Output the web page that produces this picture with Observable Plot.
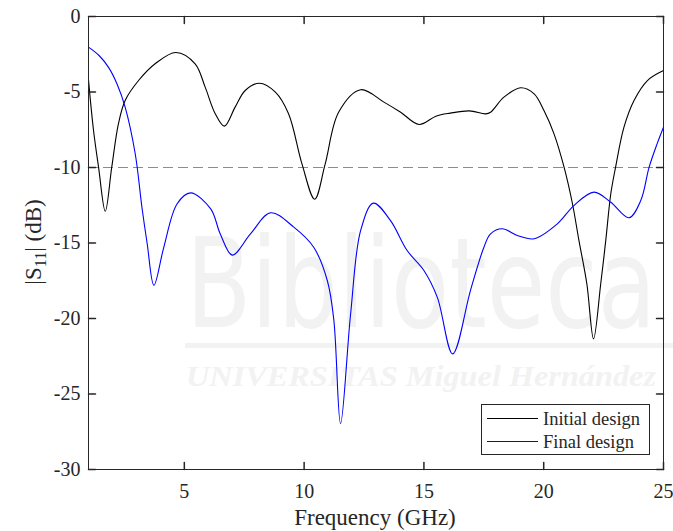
<!DOCTYPE html>
<html><head><meta charset="utf-8">
<script src="https://cdn.jsdelivr.net/npm/d3@7"></script>
<script src="https://cdn.jsdelivr.net/npm/@observablehq/plot@0.6"></script>
<style>body{margin:0;background:#fff} svg{display:block}</style>
</head><body><div id="chart"></div>
<script>
// Initial design |S11| (dB)
const freqInitial = [1.0,1.21,1.42,1.7,1.97,2.25,2.53,3.09,3.78,4.65,5.45,5.87,6.29,6.67,7.12,7.54,8.13,8.8,9.35,9.91,10.44,10.88,11.44,12.36,13.33,14.03,14.8,15.5,16.1,16.9,17.58,17.78,18.34,19.04,19.6,20.01,20.43,20.85,21.2,21.47,21.8,22.08,22.38,22.59,22.8,23.0,23.35,23.77,24.33,25.0];
const s11Initial  = [-4.2,-7.55,-9.98,-12.9,-9.98,-7.1,-5.56,-4.24,-3.13,-2.38,-3.13,-4.68,-6.44,-7.26,-6.0,-4.9,-4.42,-5.01,-6.44,-9.76,-12.1,-9.76,-6.34,-4.85,-5.67,-6.34,-7.15,-6.6,-6.4,-6.25,-6.45,-6.34,-5.34,-4.72,-5.12,-6.23,-7.77,-9.98,-12.4,-14.83,-17.7,-21.35,-17.7,-14.83,-11.74,-9.98,-7.33,-5.56,-4.24,-3.58];
// Final design |S11| (dB)
const freqFinal = [1.0,1.45,1.85,2.2,2.53,2.95,3.23,3.45,3.73,4.14,4.7,5.26,6.1,6.5,7.0,7.76,8.6,9.57,10.4,10.97,11.24,11.52,11.94,12.36,12.89,13.6,14.3,15.0,15.56,16.2,16.95,17.5,17.78,18.27,18.9,19.6,20.57,21.26,22.1,22.8,23.56,24.05,24.4,24.74,25.0];
const s11Final  = [-2.03,-2.6,-3.4,-4.5,-6.0,-9.09,-12.63,-15.05,-17.8,-15.3,-12.4,-11.68,-12.74,-14.4,-15.8,-14.4,-13.0,-13.95,-15.28,-17.5,-20.1,-26.97,-19.7,-14.17,-12.36,-13.5,-15.5,-16.82,-18.6,-22.34,-18.1,-15.3,-14.39,-14.06,-14.5,-14.72,-13.73,-12.52,-11.63,-12.3,-13.33,-12.19,-9.98,-8.4,-7.33];

const seriesNames = ["Initial design", "Final design"];
const seriesColors = ["#000000", "#0000ff"];
const xTicks = [5, 10, 15, 20, 25];
const yTicks = [-30, -25, -20, -15, -10, -5, 0];
const threshold = -10;
const xLabel = "Frequency (GHz)";

const initial = freqInitial.map((f, i) => ({f, s: s11Initial[i]}));
const final = freqFinal.map((f, i) => ({f, s: s11Final[i]}));

const tickShape = {draw(ctx, l) { ctx.moveTo(0, 0); ctx.lineTo(0, -l); }};
const axisColor = "#262626";
const font = "Liberation Serif, Times New Roman, serif";

const chart = Plot.plot({
  width: 673, height: 531,
  marginLeft: 88, marginRight: 10, marginTop: 16, marginBottom: 62,
  style: {fontFamily: font, fontSize: "20px", color: axisColor, background: "#fff"},
  x: {domain: [1, 25]},
  y: {domain: [-30, 0]},
  marks: [
    Plot.ruleY([threshold], {stroke: "#8c8c8c", strokeDasharray: "10,5", strokeWidth: 1.2}),
    Plot.line(initial, {x: "f", y: "s", stroke: seriesColors[0], strokeWidth: 1.1, curve: "catmull-rom"}),
    Plot.line(final, {x: "f", y: "s", stroke: seriesColors[1], strokeWidth: 1.1, curve: "catmull-rom"}),
    Plot.frame({stroke: axisColor, strokeWidth: 1}),
    Plot.vector(xTicks, {x: d => d, y: () => -30, length: 7, rotate: 0, anchor: "start", shape: tickShape, stroke: axisColor}),
    Plot.vector(xTicks, {x: d => d, y: () => 0, length: 7, rotate: 180, anchor: "start", shape: tickShape, stroke: axisColor}),
    Plot.vector(yTicks, {x: () => 1, y: d => d, length: 7, rotate: 90, anchor: "start", shape: tickShape, stroke: axisColor}),
    Plot.vector(yTicks, {x: () => 25, y: d => d, length: 7, rotate: 270, anchor: "start", shape: tickShape, stroke: axisColor}),
    Plot.axisX(xTicks, {tickSize: 0, tickPadding: 14, tickFormat: d => String(d), label: null, fontSize: 20}),
    Plot.axisY(yTicks, {tickSize: 0, tickPadding: 8, tickFormat: d => String(d), label: null, fontSize: 20})
  ]
});
document.getElementById("chart").appendChild(chart);

const svg = d3.select(chart);
svg.style("font-family", font);
svg.selectAll("text").attr("font-family", font).style("font-family", font);

// faint background watermark
const wm = svg.insert("g", ":first-child").attr("fill", "#f2f2f2").attr("text-anchor", "start");
wm.append("text").attr("x", 186).attr("y", 327).attr("font-size", 124)
  .style("font-family", "DejaVu Sans, sans-serif")
  .attr("textLength", 470).attr("lengthAdjust", "spacingAndGlyphs").text("Biblioteca");
wm.append("rect").attr("x", 185).attr("y", 343).attr("width", 488).attr("height", 5);
wm.append("text").attr("x", 186).attr("y", 386).attr("font-size", 29).attr("font-style", "italic").attr("font-weight", "bold")
  .style("font-family", font)
  .attr("textLength", 470).attr("lengthAdjust", "spacingAndGlyphs").text("UNIVERSITAS Miguel Hernández");

// axis titles
svg.append("text").attr("x", 375).attr("y", 525).attr("text-anchor", "middle")
  .style("font-family", font).attr("font-size", 23).attr("fill", axisColor).text(xLabel);
const yl = svg.append("text").attr("transform", "translate(41,242) rotate(-90)").attr("text-anchor", "middle")
  .style("font-family", font).attr("font-size", 23).attr("fill", axisColor);
yl.append("tspan").text("|S");
yl.append("tspan").attr("font-size", 16).attr("dy", 5).text("11");
yl.append("tspan").attr("dy", -5).text("| (dB)");

// legend
const lg = svg.append("g").attr("text-anchor", "start");
lg.append("rect").attr("x", 481.5).attr("y", 404.5).attr("width", 168).attr("height", 50)
  .attr("fill", "#fff").attr("stroke", axisColor).attr("stroke-width", 1);
seriesNames.forEach((name, i) => {
  const y = 418.5 + i * 23;
  lg.append("line").attr("x1", 487).attr("x2", 538).attr("y1", y).attr("y2", y)
    .attr("stroke", seriesColors[i]).attr("stroke-width", 1.1);
  lg.append("text").attr("x", 543).attr("y", y + 6).style("font-family", font).attr("font-size", 18.5)
    .attr("text-anchor", "start").attr("fill", axisColor).text(name);
});
</script></body></html>
